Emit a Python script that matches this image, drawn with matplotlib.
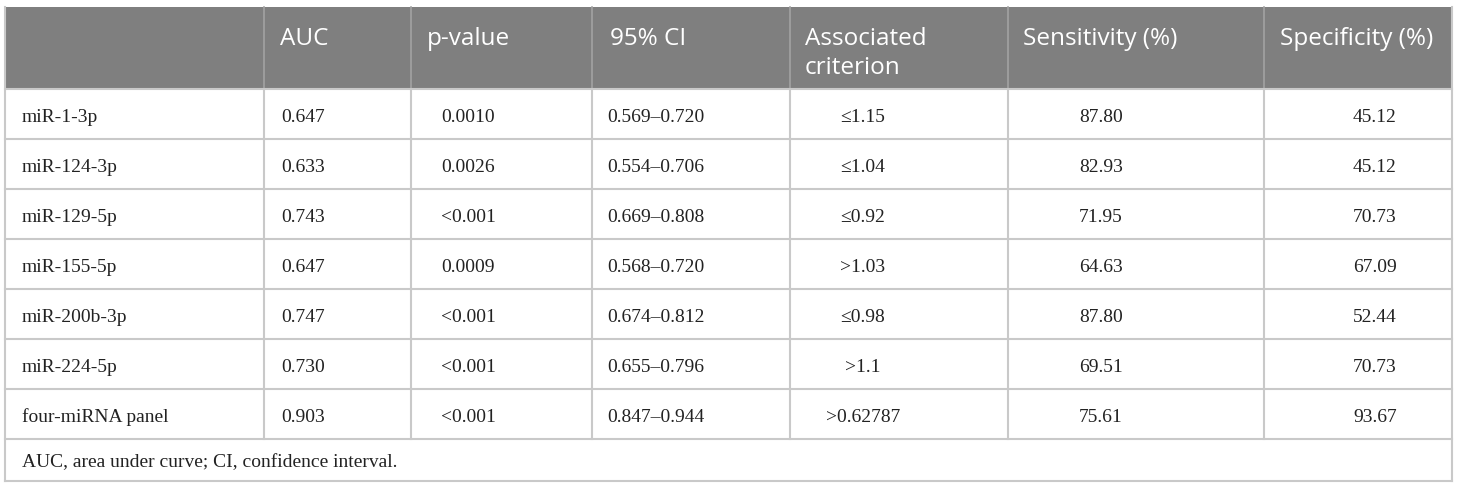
import matplotlib
matplotlib.use('Agg')
import matplotlib.pyplot as plt
from matplotlib.patches import Rectangle

# table contents
headers = ['', 'AUC', 'p-value', '95% CI', 'Associated\ncriterion', 'Sensitivity (%)', 'Specificity (%)']
markers = ['miR-1-3p', 'miR-124-3p', 'miR-129-5p', 'miR-155-5p', 'miR-200b-3p', 'miR-224-5p', 'four-miRNA panel']
auc = ['0.647', '0.633', '0.743', '0.647', '0.747', '0.730', '0.903']
pval = ['0.0010', '0.0026', '<0.001', '0.0009', '<0.001', '<0.001', '<0.001']
ci = ['0.569–0.720', '0.554–0.706', '0.669–0.808', '0.568–0.720', '0.674–0.812', '0.655–0.796', '0.847–0.944']
crit = ['≤1.15', '≤1.04', '≤0.92', '>1.03', '≤0.98', '>1.1', '>0.62787']
sens = ['87.80', '82.93', '71.95', '64.63', '87.80', '69.51', '75.61']
spec = ['45.12', '45.12', '70.73', '67.09', '52.44', '70.73', '93.67']
footnote = 'AUC, area under curve; CI, confidence interval.'

W, H = 1460, 490
col_x = [5, 264, 411, 592, 790, 1008, 1264, 1452]
top, head_bot, row_h = 7, 89, 50
foot_bot = 481

fig = plt.figure(figsize=(W / 100, H / 100), dpi=100)
ax = fig.add_axes([0, 0, 1, 1])
ax.set_xlim(0, W)
ax.set_ylim(H, 0)
ax.axis('off')

grid = '#c9c9c9'
head_col = '#7f7f7f'

# header band
ax.add_patch(Rectangle((col_x[0], top), col_x[-1] - col_x[0], head_bot - top,
                       facecolor=head_col, edgecolor='none'))
for x in col_x[1:-1]:
    ax.plot([x, x], [top, head_bot], color='#a3a3a3', lw=1.2)

sans = ['Open Sans', 'DejaVu Sans']
serif = ['Liberation Serif', 'DejaVu Serif']

head_x = [None, 280, 427, 610, 805, 1023, 1280]
for i, h in enumerate(headers):
    for k, line in enumerate(h.split('\n')):
        if line:
            ax.text(head_x[i], 45 + 29 * k, line, color='white', fontsize=17.5,
                    family=sans, va='baseline', ha='left')

# body rows
n = len(markers)
row_lines = [head_bot + k * row_h for k in range(n + 1)]
cols = [markers, auc, pval, ci, crit, sens, spec]
body_x = [22, 281, 441, 607, 863, 1101, 1375]
body_ha = ['left', 'left', 'left', 'left', 'center', 'center', 'center']
for r in range(n):
    yb = row_lines[r] + row_h / 2 + 8
    for c, vals in enumerate(cols):
        ax.text(body_x[c], yb, vals[r], fontsize=14, family=serif,
                color='#222222', va='baseline', ha=body_ha[c])

lw = 1.5
for y in row_lines:
    ax.plot([col_x[0], col_x[-1]], [y, y], color=grid, lw=lw)
ax.plot([col_x[0], col_x[-1]], [foot_bot, foot_bot], color=grid, lw=lw)
for x in col_x[1:-1]:
    ax.plot([x, x], [head_bot, row_lines[-1]], color=grid, lw=lw)
ax.plot([col_x[0], col_x[0]], [top, foot_bot], color=grid, lw=lw)
ax.plot([col_x[-1], col_x[-1]], [top, foot_bot], color=grid, lw=lw)

ax.text(22, (row_lines[-1] + foot_bot) / 2 + 7, footnote, fontsize=14,
        family=serif, color='#222222', va='baseline', ha='left')

fig.savefig('out.png', dpi=100)
